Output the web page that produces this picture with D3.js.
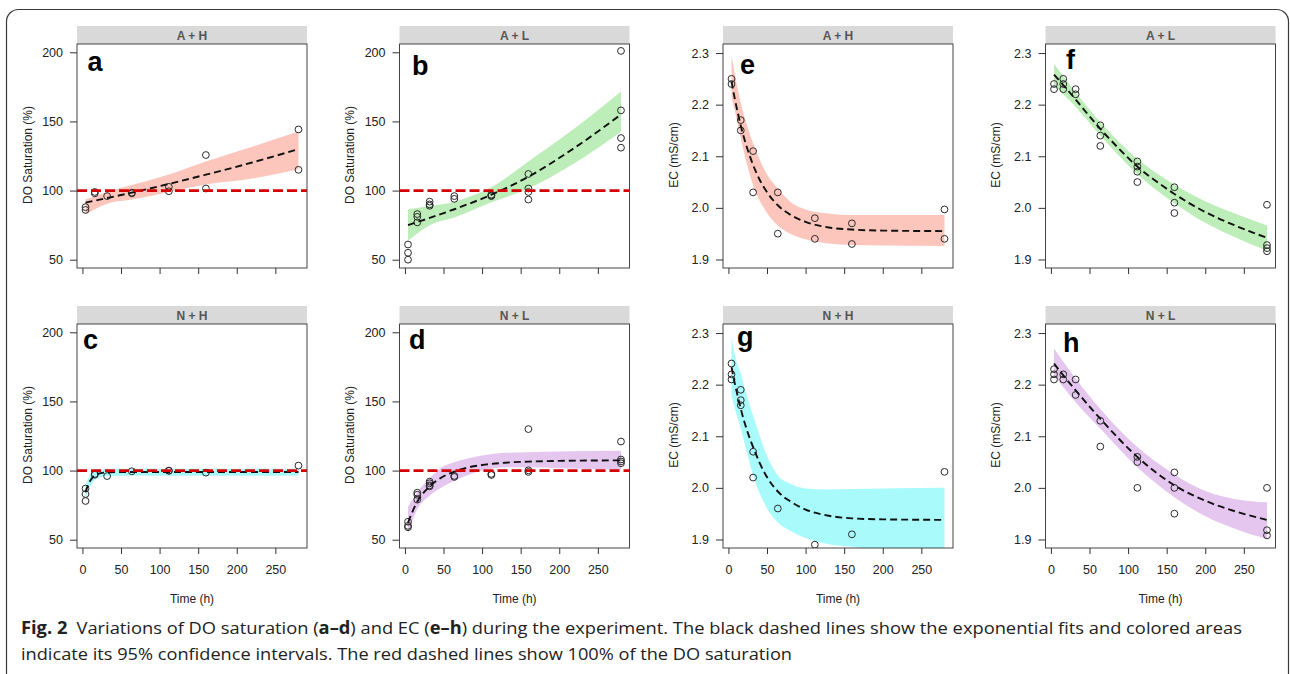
<!DOCTYPE html>
<html><head><meta charset="utf-8">
<script src="https://cdn.jsdelivr.net/npm/d3@7"></script>
<style>
body{margin:0;background:#fff;}
svg{display:block;font-family:"Liberation Sans",Arial,Helvetica,sans-serif;}
</style></head><body>
<svg id="c" width="1290" height="674"></svg>
<script>
// ---------- data ----------
const xTicks = [0, 50, 100, 150, 200, 250];
const doTicks = [50, 100, 150, 200];
const ecTicks = [1.9, 2.0, 2.1, 2.2, 2.3];
const stripLabels = ["A + H", "A + L", "N + H", "N + L"];
const panelLetters = ["a", "b", "c", "d", "e", "f", "g", "h"];
const doReference = 100;
const timeRange = [4, 280];

// observations: [time (h), value]
const obsDO_AH = [[4,88],[4,86],[16,99],[16,98],[32,96],[64,98],[64,98.5],[112,102.7],[112,99.5],[160,125.7],[160,101.5],[280,144.2],[280,115]];
const obsDO_AL = [[4,61],[4,55],[4,50],[16,83],[16,81],[16,77],[32,92],[32,90],[32,89],[64,96],[64,94],[112,97],[112,96.4],[112,96],[160,112],[160,101.5],[160,99],[160,93.5],[280,201],[280,158],[280,138],[280,131]];
const obsDO_NH = [[4,87],[4,83],[4,78],[16,97],[16,97.5],[32,96],[64,99.5],[112,99.8],[112,100],[160,98.5],[280,103.6]];
const obsDO_NL = [[4,63],[4,60],[4,59],[16,84],[16,82.5],[16,79],[32,92],[32,90.8],[32,89.3],[32,88.6],[64,96.1],[64,95.4],[112,97.6],[112,96.8],[160,130],[160,100.2],[160,99],[280,121],[280,108],[280,106.6],[280,105.3]];
const obsEC_AH = [[4,2.25],[4,2.24],[16,2.17],[16,2.15],[32,2.11],[32,2.03],[64,2.03],[64,1.95],[112,1.98],[112,1.94],[160,1.97],[160,1.93],[280,1.997],[280,1.94]];
const obsEC_AL = [[4,2.24],[4,2.23],[16,2.25],[16,2.24],[16,2.23],[32,2.23],[32,2.22],[64,2.16],[64,2.14],[64,2.12],[112,2.09],[112,2.08],[112,2.07],[112,2.05],[160,2.04],[160,2.01],[160,1.99],[280,2.006],[280,1.928],[280,1.922],[280,1.916]];
const obsEC_NH = [[4,2.241],[4,2.22],[4,2.21],[16,2.19],[16,2.17],[16,2.16],[32,2.07],[32,2.02],[64,1.96],[112,1.89],[160,1.91],[280,2.031]];
const obsEC_NL = [[4,2.23],[4,2.22],[4,2.21],[16,2.22],[16,2.21],[32,2.21],[32,2.18],[64,2.13],[64,2.08],[112,2.06],[112,2.05],[112,2.0],[160,2.03],[160,2.0],[160,1.95],[280,2.0],[280,1.918],[280,1.908]];

// exponential fits: [time, value]
const fitDO_AH = [[4,91.3],[32,94.6],[64,98.5],[112,104.8],[160,111.5],[220,120.3],[280,130]];
const fitDO_AL = [[4,75],[32,80.2],[64,86.5],[112,97],[160,110],[220,131],[280,155]];
const fitDO_NH = [[4,84.5],[8,90.5],[12,94.2],[16,96.4],[24,98.2],[32,98.7],[48,98.9],[64,99],[280,99]];
const fitDO_NL = [[4,62.4],[8,68],[16,77.5],[24,83.8],[32,88.5],[48,95.2],[64,99.3],[80,102],[100,104],[130,105.7],[160,106.5],[200,107],[280,107.4]];
const fitEC_AH = [[4,2.245],[8,2.213],[12,2.185],[16,2.159],[24,2.117],[32,2.083],[40,2.056],[48,2.035],[64,2.005],[80,1.987],[100,1.973],[130,1.962],[160,1.958],[200,1.956],[280,1.955]];
const fitEC_AL = [[4,2.258],[16,2.238],[32,2.21],[48,2.181],[64,2.153],[88,2.115],[112,2.08],[136,2.052],[160,2.027],[200,1.992],[240,1.965],[280,1.942]];
const fitEC_NH = [[4,2.234],[8,2.204],[12,2.178],[16,2.153],[24,2.112],[32,2.079],[40,2.05],[48,2.026],[64,1.993],[80,1.974],[100,1.958],[130,1.946],[160,1.941],[200,1.939],[280,1.938]];
const fitEC_NL = [[4,2.241],[16,2.218],[32,2.189],[64,2.134],[112,2.06],[160,2.005],[200,1.975],[240,1.954],[280,1.938]];

// 95% confidence bands: [time, lower, upper]
const ciDO_AH = [[4,82.7,93.5],[32,90.5,99],[64,93.5,104],[112,99,111.6],[160,104.4,121],[220,108.7,131.7],[280,115.5,142.7]];
const ciDO_AL = [[4,63.7,86.4],[32,75,88.8],[64,80.5,92],[112,91.5,102.5],[160,101.5,121],[220,120,145],[280,142.6,171.7]];
const ciDO_NH = [[4,79,90],[8,86,95],[12,90.5,98],[16,93.2,99.8],[24,95.3,100.8],[32,96,101.2],[64,96.3,101.3],[280,96.3,101.3]];
const ciDO_NL = [[4,54.6,73.8],[16,72.1,84.2],[32,81.8,94.4],[48,87.9,102.4],[64,92.7,106],[80,96.4,108.5],[100,100,110.9],[130,102.4,112.8],[160,102.4,113.3],[200,101.7,113.8],[280,100.7,114.3]];
const ciEC_AH = [[4,2.215,2.295],[8,2.19,2.262],[16,2.135,2.203],[24,2.085,2.16],[32,2.044,2.125],[48,1.995,2.07],[64,1.966,2.038],[80,1.95,2.012],[100,1.939,1.997],[130,1.931,1.989],[160,1.928,1.986],[200,1.927,1.986],[280,1.926,1.986]];
const ciEC_AL = [[4,2.237,2.279],[32,2.196,2.224],[64,2.14,2.166],[112,2.065,2.095],[160,2.009,2.045],[200,1.971,2.013],[240,1.942,1.988],[280,1.917,1.966]];
const ciEC_NH = [[4,2.18,2.293],[8,2.155,2.26],[16,2.115,2.221],[24,2.068,2.178],[32,2.024,2.14],[48,1.966,2.069],[64,1.933,2.024],[80,1.917,2.008],[100,1.903,1.999],[130,1.891,1.997],[160,1.886,1.998],[200,1.877,1.999],[280,1.869,2.0]];
const ciEC_NL = [[4,2.218,2.27],[32,2.166,2.212],[64,2.115,2.153],[112,2.04,2.079],[160,1.982,2.026],[200,1.945,1.994],[240,1.92,1.978],[280,1.901,1.972]];

// ---------- layout / style ----------
const colLeft = [77, 399.5, 723, 1045.5];
const rowTop = [44, 324];
const boxW = 230, boxH = 224, stripH = 18;
const bandColors = {red: "#fcc6bc", green: "#bdedb8", cyan: "#a9fbfb", purple: "#e5c6ef"};
// letter offsets [dx from box left, dy from box top]
const letterPos = {a:[10.5,27], b:[12.5,31], c:[6,24.5], d:[9.5,25], e:[17,30], f:[20.5,25], g:[14,21.5], h:[17.5,28]};
const axisFont = '"Liberation Sans",Arial,Helvetica,sans-serif';

const panels = [
  {letter:"a", col:0, row:0, kind:"DO", strip:0, obs:obsDO_AH, fit:fitDO_AH, ci:ciDO_AH, color:bandColors.red},
  {letter:"b", col:1, row:0, kind:"DO", strip:1, obs:obsDO_AL, fit:fitDO_AL, ci:ciDO_AL, color:bandColors.green},
  {letter:"c", col:0, row:1, kind:"DO", strip:2, obs:obsDO_NH, fit:fitDO_NH, ci:ciDO_NH, color:bandColors.cyan},
  {letter:"d", col:1, row:1, kind:"DO", strip:3, obs:obsDO_NL, fit:fitDO_NL, ci:ciDO_NL, color:bandColors.purple},
  {letter:"e", col:2, row:0, kind:"EC", strip:0, obs:obsEC_AH, fit:fitEC_AH, ci:ciEC_AH, color:bandColors.red},
  {letter:"f", col:3, row:0, kind:"EC", strip:1, obs:obsEC_AL, fit:fitEC_AL, ci:ciEC_AL, color:bandColors.green},
  {letter:"g", col:2, row:1, kind:"EC", strip:2, obs:obsEC_NH, fit:fitEC_NH, ci:ciEC_NH, color:bandColors.cyan},
  {letter:"h", col:3, row:1, kind:"EC", strip:3, obs:obsEC_NL, fit:fitEC_NL, ci:ciEC_NL, color:bandColors.purple}
];

const svg = d3.select("#c");
svg.append("rect").attr("width",1290).attr("height",674).attr("fill","#fff");
// outer rounded frame
svg.append("rect").attr("x",6.5).attr("y",9.5).attr("width",1282).attr("height",680)
  .attr("rx",12).attr("fill","none").attr("stroke","#3a3a3a").attr("stroke-width",1.2);

const xPad = (timeRange[1]-timeRange[0])*0.04;
const defs = svg.append("defs");

panels.forEach((p, i) => {
  const left = colLeft[p.col], top = rowTop[p.row];
  const x = d3.scaleLinear().domain([timeRange[0]-xPad, timeRange[1]+xPad]).range([left, left+boxW]);
  const y = p.kind === "DO"
    ? d3.scaleLinear().domain([44, 206]).range([top+boxH, top])
    : d3.scaleLinear().domain([1.8835, 2.3175]).range([top+boxH, top]);
  const g = svg.append("g").attr("font-family", axisFont);

  // strip
  g.append("rect").attr("x",left).attr("y",top-stripH).attr("width",boxW).attr("height",stripH)
    .attr("fill","#d9d9d9");
  g.append("text").attr("x",left+boxW/2).attr("y",top-4.5).attr("text-anchor","middle")
    .attr("font-size",12).attr("font-weight","bold").attr("fill","#555")
    .text(stripLabels[p.strip]);

  const clipId = "clip"+i;
  defs.append("clipPath").attr("id",clipId).append("rect")
    .attr("x",left).attr("y",top).attr("width",boxW).attr("height",boxH);
  const inner = g.append("g").attr("clip-path",`url(#${clipId})`);

  // band
  inner.append("path").datum(p.ci)
    .attr("d", d3.area().x(d=>x(d[0])).y0(d=>y(d[1])).y1(d=>y(d[2])).curve(d3.curveMonotoneX))
    .attr("fill", p.color);

  // points
  inner.selectAll("circle.o").data(p.obs).join("circle")
    .attr("cx", d=>x(d[0])).attr("cy", d=>y(d[1])).attr("r",3.4)
    .attr("fill","none").attr("stroke","#2a2a2a").attr("stroke-width",1);

  // fit
  inner.append("path").datum(p.fit)
    .attr("d", d3.line().x(d=>x(d[0])).y(d=>y(d[1])).curve(d3.curveMonotoneX))
    .attr("fill","none").attr("stroke","#111").attr("stroke-width",1.9)
    .attr("stroke-dasharray","7,4");

  // reference line
  if (p.kind === "DO") {
    inner.append("line").attr("x1",left).attr("x2",left+boxW)
      .attr("y1",y(doReference)).attr("y2",y(doReference))
      .attr("stroke","#d40000").attr("stroke-width",2.8).attr("stroke-dasharray","10,4");
  }

  // box
  g.append("rect").attr("x",left).attr("y",top).attr("width",boxW).attr("height",boxH)
    .attr("fill","none").attr("stroke","#444").attr("stroke-width",1);

  // y axis
  const yAxis = d3.axisLeft(y).tickValues(p.kind==="DO"?doTicks:ecTicks)
    .tickSize(7).tickPadding(7)
    .tickFormat(p.kind==="DO"? d3.format("d") : d3.format(".1f"));
  const ya = g.append("g").attr("transform",`translate(${left},0)`).call(yAxis)
    .attr("font-family", axisFont);
  ya.select(".domain").remove();
  ya.selectAll("line").attr("stroke","#333");
  ya.selectAll("text").attr("font-size",12.5).attr("fill","#222");

  // x axis
  const xAxis = d3.axisBottom(x).tickValues(xTicks).tickSize(6).tickPadding(11);
  if (p.row === 0) xAxis.tickFormat("");
  const xa = g.append("g").attr("transform",`translate(0,${top+boxH})`).call(xAxis)
    .attr("font-family", axisFont);
  xa.select(".domain").remove();
  xa.selectAll("line").attr("stroke","#333");
  xa.selectAll("text").attr("font-size",12.5).attr("fill","#222");

  // axis titles
  g.append("text").attr("transform",`translate(${left-45.5},${top+boxH/2-1}) rotate(-90)`)
    .attr("text-anchor","middle").attr("font-size",12).attr("fill","#222")
    .text(p.kind==="DO" ? "DO Saturation (%)" : "EC (mS/cm)");
  if (p.row === 1) {
    g.append("text").attr("x",left+boxW/2).attr("y",top+boxH+55)
      .attr("text-anchor","middle").attr("font-size",12).attr("fill","#222").text("Time (h)");
  }

  // panel letter
  const lp = letterPos[p.letter];
  g.append("text").attr("x",left+lp[0]).attr("y",top+lp[1])
    .attr("font-size",27).attr("font-weight","bold").attr("fill","#000").text(p.letter);
});

// caption
const cap = svg.append("g").attr("font-family",'"Open Sans","Noto Sans",sans-serif')
  .attr("font-size",17).attr("fill","#222");
const l1 = cap.append("text").attr("x",21).attr("y",634).attr("textLength",1221).attr("lengthAdjust","spacingAndGlyphs");
l1.append("tspan").attr("font-weight","bold").text("Fig. 2");
l1.append("tspan").text("\u2002Variations of DO saturation (");
l1.append("tspan").attr("font-weight","bold").text("a\u2013d");
l1.append("tspan").text(") and EC (");
l1.append("tspan").attr("font-weight","bold").text("e\u2013h");
l1.append("tspan").text(") during the experiment. The black dashed lines show the exponential fits and colored areas");
cap.append("text").attr("x",21).attr("y",660).attr("textLength",771).attr("lengthAdjust","spacingAndGlyphs")
  .text("indicate its 95% confidence intervals. The red dashed lines show 100% of the DO saturation");
</script>
</body></html>
